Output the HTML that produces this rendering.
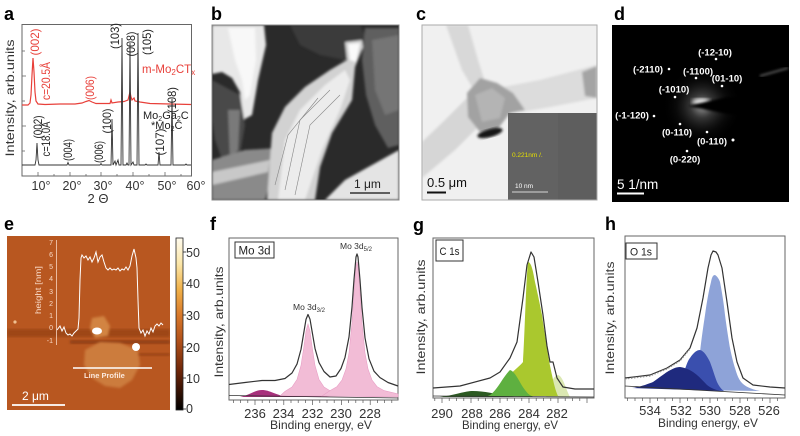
<!DOCTYPE html>
<html><head><meta charset="utf-8"><style>
html,body{margin:0;padding:0;background:#fff;}
svg{display:block;font-family:"Liberation Sans",sans-serif;}
</style></head><body>
<svg width="800" height="436" viewBox="0 0 800 436" xmlns="http://www.w3.org/2000/svg">
<defs>
<linearGradient id="cbar" x1="0" y1="0" x2="0" y2="1">
<stop offset="0" stop-color="#fffbee"/><stop offset="0.15" stop-color="#fbe6a8"/><stop offset="0.3" stop-color="#f0b048"/><stop offset="0.45" stop-color="#d8782a"/><stop offset="0.6" stop-color="#b0501a"/><stop offset="0.78" stop-color="#6a2408"/><stop offset="1" stop-color="#000"/>
</linearGradient>
<radialGradient id="glow" cx="0.5" cy="0.5" r="0.5">
<stop offset="0" stop-color="#fff" stop-opacity="0.9"/><stop offset="0.3" stop-color="#aaa" stop-opacity="0.45"/><stop offset="0.65" stop-color="#444" stop-opacity="0.2"/><stop offset="1" stop-color="#000" stop-opacity="0"/>
</radialGradient>
<filter id="bl1"><feGaussianBlur stdDeviation="1.2"/></filter>
<filter id="bl2"><feGaussianBlur stdDeviation="2.5"/></filter>
<clipPath id="cb"><rect x="212" y="25" width="187" height="175"/></clipPath>
<clipPath id="cc"><rect x="422" y="25" width="175" height="175"/></clipPath>
<clipPath id="cd"><rect x="612" y="25" width="177" height="177"/></clipPath>
<clipPath id="ce"><rect x="7" y="236" width="163" height="174"/></clipPath>
</defs>

<!-- ===== Panel a ===== -->
<text x="4" y="20" font-size="18" font-weight="bold">a</text>
<rect x="22" y="24.5" width="169.5" height="151.5" fill="#fff" stroke="#666" stroke-width="1"/>
<g stroke="#666" stroke-width="0.8">
<line x1="38" y1="176" x2="38" y2="172"/><line x1="70" y1="176" x2="70" y2="172"/><line x1="101" y1="176" x2="101" y2="172"/><line x1="133" y1="176" x2="133" y2="172"/><line x1="165" y1="176" x2="165" y2="172"/>
<line x1="54" y1="176" x2="54" y2="174"/><line x1="86" y1="176" x2="86" y2="174"/><line x1="117" y1="176" x2="117" y2="174"/><line x1="149" y1="176" x2="149" y2="174"/><line x1="181" y1="176" x2="181" y2="174"/>
<line x1="22" y1="76" x2="26" y2="76"/><line x1="22" y1="126" x2="26" y2="126"/><line x1="22" y1="151" x2="25" y2="151"/><line x1="22" y1="101" x2="25" y2="101"/><line x1="22" y1="51" x2="25" y2="51"/>
</g>
<path d="M22,105 L28,105 L30,103 L31,95 L32,75 L33,58 L34,72 L35,92 L36,101 L38,104 L45,104.5 L60,104 L75,104 L82,103 L86,101.5 L89,100.5 L92,102 L96,103.5 L110,103.5 L111,100 L112,103 L118,102 L124,101.5 L128,100 L129,96 L130,92 L131,97 L132,100 L134,98 L135,101 L140,102 L150,103.5 L170,104 L191,104.5" fill="none" stroke="#e8403a" stroke-width="1.2"/>
<path d="M22,165 L35,165 L36,160 L37,143 L38,160 L39,165 L67,165 L68,162.5 L69,165 L100,165 L101,163.5 L102,165 L111,165 L112,119 L113,165 L115,161 L116,165 L118,160 L119,165 L121,165 L122,38 L123,165 L126,165 L127,163 L128,165 L129,165 L130,43 L131,165 L133,162 L134,165 L137,165 L138,33 L139,165 L145,165 L146,164 L147,165 L158,165 L159,152 L160,165 L171,165 L172,99 L173,165 L185,165 L186,164 L187,165 L191,165" fill="none" stroke="#333" stroke-width="0.9"/>
<g font-size="12" fill="#e8403a" text-anchor="middle">
<text transform="translate(39,42) rotate(-90)" textLength="27" lengthAdjust="spacingAndGlyphs">(002)</text>
<text transform="translate(50,81) rotate(-90)" textLength="38" lengthAdjust="spacingAndGlyphs">c=20.5Å</text>
<text transform="translate(94,88) rotate(-90)" textLength="24" lengthAdjust="spacingAndGlyphs">(006)</text>
</g>
<text x="142" y="73" font-size="11.5" fill="#e8403a">m-Mo<tspan font-size="8" dy="2">2</tspan><tspan dy="-2">CT</tspan><tspan font-size="8" dy="2">x</tspan></text>
<g font-size="12" fill="#222" text-anchor="middle">
<text transform="translate(119,36) rotate(-90)" textLength="26" lengthAdjust="spacingAndGlyphs">(103)</text>
<text transform="translate(135,44) rotate(-90)" textLength="25" lengthAdjust="spacingAndGlyphs">(008)</text>
<text transform="translate(151,42) rotate(-90)" textLength="26" lengthAdjust="spacingAndGlyphs">(105)</text>
<text transform="translate(176,100) rotate(-90)" textLength="26" lengthAdjust="spacingAndGlyphs">(108)</text>
<text transform="translate(42,127) rotate(-90)" textLength="23" lengthAdjust="spacingAndGlyphs">(002)</text>
<text transform="translate(50,139) rotate(-90)" textLength="35" lengthAdjust="spacingAndGlyphs">c=18.0Å</text>
<text transform="translate(72,150) rotate(-90)" textLength="22" lengthAdjust="spacingAndGlyphs">(004)</text>
<text transform="translate(103,152) rotate(-90)" textLength="22" lengthAdjust="spacingAndGlyphs">(006)</text>
<text transform="translate(111,121) rotate(-90)" textLength="25" lengthAdjust="spacingAndGlyphs">(100)</text>
<text transform="translate(164,142) rotate(-90)" textLength="27" lengthAdjust="spacingAndGlyphs">(107)</text>
</g>
<text x="143" y="119" font-size="11" fill="#222">Mo<tspan font-size="7" dy="2">2</tspan><tspan dy="-2">Ga</tspan><tspan font-size="7" dy="2">2</tspan><tspan dy="-2">C</tspan></text>
<text x="151" y="129" font-size="11" fill="#222">*Mo<tspan font-size="7" dy="2">2</tspan><tspan dy="-2">C</tspan></text>
<g font-size="12.5" fill="#333" text-anchor="middle">
<text x="41" y="190">10°</text><text x="72" y="190">20°</text><text x="103" y="190">30°</text><text x="135" y="190">40°</text><text x="167" y="190">50°</text><text x="196" y="190">60°</text>
</g>
<text x="98" y="203" font-size="13" fill="#333" text-anchor="middle">2 Θ</text>
<text transform="translate(14,98) rotate(-90)" font-size="12" fill="#333" text-anchor="middle" textLength="117" lengthAdjust="spacingAndGlyphs">Intensity, arb.units</text>

<!-- ===== Panel b (SEM) ===== -->
<text x="211" y="20" font-size="18" font-weight="bold">b</text>
<g clip-path="url(#cb)">
<rect x="212" y="25" width="187" height="175" fill="#2a2a2a"/>
<g filter="url(#bl1)">
<path d="M290,25 L360,25 L370,45 L345,60 L320,55 L300,45 Z" fill="#3a3a3a"/>
<path d="M365,28 L399,28 L399,145 L388,148 L375,125 L366,95 L362,60 Z" fill="#5e5e5e"/>
<path d="M372,40 L399,35 L399,110 L385,115 L375,90 Z" fill="#757575"/>
<path d="M212,25 L264,25 L266,45 L258,80 L252,115 L243,120 L240,92 L232,78 L222,72 L212,74 Z" fill="#e8e8e8"/>
<path d="M228,28 L255,28 L256,60 L250,95 L245,100 L242,80 L235,60 Z" fill="#f8f8f8"/>
<path d="M212,80 L240,95 L245,125 L238,165 L225,168 L215,140 L212,120 Z" fill="#484848"/>
<path d="M228,110 L240,110 L238,150 L230,160 Z" fill="#7a7a7a"/>
<path d="M212,160 L245,150 L278,148 L272,175 L265,200 L212,200 Z" fill="#8a8a8a"/>
<path d="M212,172 L270,160 L268,172 L212,185 Z" fill="#c8c8c8"/>
<path d="M325,200 L345,180 L372,165 L399,150 L399,200 Z" fill="#e4e4e4"/>
<path d="M267,200 L272,133 L285,107 L305,87 L330,70 L347,60 L345,42 L362,40 L363,47 L355,67 L352,100 L332,133 L320,167 L315,200 Z" fill="#d2d2d2"/>
<path d="M278,200 L285,140 L300,110 L325,85 L345,70 L350,80 L340,110 L322,150 L305,200 Z" fill="#ececec"/>
<path d="M348,44 L360,43 L356,62 L350,60 Z" fill="#fafafa"/>
</g>
<g stroke="#888" stroke-width="0.6" fill="none">
<path d="M285,190 L300,120 L330,90"/><path d="M295,195 L310,125 L340,95"/><path d="M275,185 L288,135 L318,98"/>
</g>
<text x="354" y="188" font-size="12" fill="#222">1 μm</text>
<line x1="350" y1="193" x2="390" y2="193" stroke="#333" stroke-width="1.5"/>
</g>
<rect x="212" y="25" width="187" height="175" fill="none" stroke="#888" stroke-width="1"/>

<!-- ===== Panel c (TEM) ===== -->
<text x="416" y="20" font-size="18" font-weight="bold">c</text>
<g clip-path="url(#cc)">
<rect x="422" y="25" width="175" height="175" fill="#f0f0f0"/>
<g filter="url(#bl1)">
<path d="M446,25 L468,25 L478,60 L485,82 L475,92 L462,70 Z" fill="#d8d8d8"/>
<path d="M498,88 L540,80 L597,65 L597,98 L545,108 L520,112 Z" fill="#dcdcdc"/>
<path d="M467,98 L480,125 L455,150 L422,178 L422,142 L445,120 Z" fill="#d6d6d6"/>
<path d="M582,72 L597,66 L597,98 L585,96 Z" fill="#a4a4a4"/>
<path d="M467,93 L480,78 L497,83 L513,93 L525,110 L510,113 L497,130 L480,132 L468,117 Z" fill="#a2a2a2"/>
<path d="M475,95 L492,88 L505,98 L500,118 L482,122 Z" fill="#b4b4b4"/>
</g>
<ellipse cx="490" cy="133" rx="13" ry="4" transform="rotate(-15 490 133)" fill="#151515" filter="url(#bl1)"/>
<rect x="508" y="113" width="89" height="87" fill="#5e5e5e"/>
<rect x="508" y="113" width="50" height="87" fill="#666" opacity="0.6"/>
<text x="512" y="157" font-size="6.5" fill="#e6e000">0.221nm /.</text>
<text x="515" y="188" font-size="6.5" fill="#fff">10 nm</text>
<line x1="512" y1="192" x2="548" y2="192" stroke="#fff" stroke-width="0.8"/>
<text x="427" y="187" font-size="13" fill="#111">0.5 μm</text>
<line x1="427" y1="192.5" x2="446" y2="192.5" stroke="#111" stroke-width="2"/>
</g>
<rect x="422" y="25" width="175" height="175" fill="none" stroke="#aaa" stroke-width="1"/>

<!-- ===== Panel d (SAED) ===== -->
<text x="614" y="20" font-size="18" font-weight="bold">d</text>
<g clip-path="url(#cd)">
<rect x="612" y="25" width="177" height="177" fill="#000"/>
<circle cx="702" cy="106" r="40" fill="url(#glow)" opacity="0.7"/>
<ellipse cx="701" cy="102" rx="9" ry="3.5" fill="#fff" filter="url(#bl2)" opacity="0.9"/>
<path d="M688,106 L727,97 L745,97 L745,115 L727,114 Z" fill="#000" filter="url(#bl1)"/>
<path d="M760,76 L788,68" stroke="#555" stroke-width="2" filter="url(#bl1)"/>
<g fill="#fff">
<circle cx="716" cy="59" r="1.3"/><circle cx="669" cy="69" r="1.3"/><circle cx="696" cy="78" r="1.3"/><circle cx="722" cy="86" r="1.3"/><circle cx="675" cy="97" r="1.3"/><circle cx="654" cy="116" r="1.3"/><circle cx="680" cy="124" r="1.3"/><circle cx="707" cy="132" r="1.3"/><circle cx="733" cy="140" r="1.5"/><circle cx="687" cy="151" r="1.3"/>
</g>
<g font-size="9.5" font-weight="bold" fill="#fff" text-anchor="middle">
<text x="715" y="55.5">(-12-10)</text>
<text x="648" y="72.5">(-2110)</text>
<text x="698" y="74.5">(-1100)</text>
<text x="727" y="81.5">(01-10)</text>
<text x="674" y="92.5">(-1010)</text>
<text x="632" y="118.5">(-1-120)</text>
<text x="677" y="135.5">(0-110)</text>
<text x="712" y="144.5">(0-110)</text>
<text x="685" y="162.5">(0-220)</text>
</g>
<text x="617" y="189" font-size="13.5" fill="#fff">5 1/nm</text>
<line x1="617" y1="193.5" x2="644" y2="193.5" stroke="#fff" stroke-width="2"/>
</g>

<!-- ===== Panel e (AFM) ===== -->
<text x="4" y="230" font-size="18" font-weight="bold">e</text>
<g clip-path="url(#ce)">
<rect x="7" y="236" width="163" height="174" fill="#b85720"/>
<rect x="7" y="329" width="163" height="8" fill="#9e4618" filter="url(#bl1)"/>
<rect x="70" y="340" width="100" height="4" fill="#924014" filter="url(#bl1)"/>
<rect x="110" y="353" width="60" height="3" fill="#9c4416" filter="url(#bl1)"/>
<g filter="url(#bl1)">
<path d="M85,350 L100,342 L120,343 L138,350 L140,365 L132,380 L120,388 L105,386 L92,378 L84,365 Z" fill="#cc7c3c"/>
<path d="M92,318 L104,316 L110,326 L108,336 L95,338 L90,328 Z" fill="#d28442"/>
</g>
<ellipse cx="97" cy="331" rx="5" ry="3.5" fill="#fff"/>
<ellipse cx="136" cy="347" rx="4" ry="4" fill="#fff"/>
<circle cx="15" cy="322" r="1.6" fill="#f0c090"/>
<line x1="56.5" y1="240" x2="56.5" y2="345" stroke="#f6d4c0" stroke-width="0.8"/>
<g font-size="7" fill="#f8d8c4" text-anchor="end">
<text x="53" y="245">7</text><text x="53" y="257">6</text><text x="53" y="269">5</text><text x="53" y="281">4</text><text x="53" y="294">3</text><text x="53" y="306">2</text><text x="53" y="318">1</text><text x="53" y="330">0</text><text x="53" y="343">-1</text>
</g>
<text transform="translate(41,290) rotate(-90)" font-size="8" fill="#f8d8c4" text-anchor="middle" textLength="48" lengthAdjust="spacingAndGlyphs">height [nm]</text>
<path d="M57,330 L60,326 L62,331 L64,327 L66,333 L68,335 L70,334 L72,336 L74,333 L76,331 L78,329 L79,318 L80,280 L81,258 L82,255 L84,258 L86,256 L88,260 L90,257 L92,262 L94,258 L96,252 L98,262 L100,257 L102,255 L104,262 L106,268 L108,270 L110,268 L112,270 L114,269 L116,270 L118,268 L120,271 L122,269 L124,270 L126,267 L128,270 L130,266 L132,256 L134,249 L136,258 L137,268 L138,300 L139,328 L141,333 L143,330 L145,336 L147,331 L149,334 L151,328 L153,332 L155,326 L157,324 L159,326 L161,323 L163,325" fill="none" stroke="#fff" stroke-width="1"/>
<line x1="73" y1="368" x2="152" y2="368" stroke="#fff" stroke-width="1.5"/>
<text x="84" y="378" font-size="7.5" font-weight="bold" fill="#fbe8dc">Line Profile</text>
<text x="22" y="400" font-size="12" fill="#fff">2 μm</text>
<line x1="12" y1="405" x2="65" y2="405" stroke="#fff" stroke-width="1.8"/>
</g>
<rect x="176" y="238" width="7" height="172" fill="url(#cbar)" stroke="#222" stroke-width="0.8"/>
<g stroke="#222" stroke-width="0.8">
<line x1="183" y1="252" x2="186" y2="252"/><line x1="183" y1="283" x2="186" y2="283"/><line x1="183" y1="315" x2="186" y2="315"/><line x1="183" y1="347" x2="186" y2="347"/><line x1="183" y1="378" x2="186" y2="378"/><line x1="183" y1="409" x2="186" y2="409"/>
</g>
<g font-size="12.5" fill="#333">
<text x="186" y="257">50</text><text x="186" y="288">40</text><text x="186" y="320">30</text><text x="186" y="352">20</text><text x="186" y="383">10</text><text x="186" y="413">0</text>
</g>

<!-- ===== Panel f (Mo 3d) ===== -->
<text x="210" y="230" font-size="18" font-weight="bold">f</text>
<text transform="translate(223,322) rotate(-90)" font-size="12" fill="#333" text-anchor="middle" textLength="111" lengthAdjust="spacingAndGlyphs">Intensity, arb.units</text>
<rect x="229" y="238" width="169" height="162" fill="#fff" stroke="#666" stroke-width="1"/>
<path d="M240,397 C250,395 255,390 262,390 C270,390 275,395 285,396 C292,395 298,388 306,388 C314,388 320,395 330,397 Z" fill="#a8307c"/>
<path d="M280,396 L285,391.4 L292,387 L297,379.5 L301,365.5 L304,346 L306,331 L308,324 L310,331 L312,346 L315,365.5 L319,379.5 L324,387 L331,391.4 L340,393.6 L345,396 Z" fill="#f2bcd6" stroke="#e8a0c6" stroke-width="0.6"/>
<path d="M322,396 L330,390.6 L337,386.6 L342,380 L346,369 L349,353 L352,322.6 L354,292.8 L356,266.3 L357,262 L358,266.3 L360,292.8 L362,322.6 L365,353 L368,369 L372,380 L377,386.6 L384,390.6 L395,393.2 L398,394 L398,397 Z" fill="#f2bcd6" stroke="#e8a0c6" stroke-width="0.6"/>
<line x1="229" y1="395.5" x2="398" y2="398" stroke="#333" stroke-width="0.8"/>
<path d="M229,384.5 L245,382.5 L262,380.5 L275,380.5 L285,378.5 L292,373 L297,364.1 L301,349.4 L304,331.4 L306,319.4 L308,314.5 L310,319.2 L312,330.9 L315,348.4 L319,362.6 L324,371.5 L330,377 L336,376 L341,368.5 L345,357.4 L349,337 L352,307 L354,279.6 L356,257 L357,254 L358,257 L360,280 L362,307.5 L365,337.8 L369,358.8 L374,371.2 L380,377.6 L388,382.5 L398,386" fill="none" stroke="#333" stroke-width="1.2" stroke-linejoin="round"/>
<rect x="235" y="242" width="39" height="16" fill="#fff" stroke="#333" stroke-width="1"/>
<text x="238.5" y="254.5" font-size="11.5" fill="#222" textLength="32" lengthAdjust="spacingAndGlyphs">Mo 3d</text>
<text x="340" y="249" font-size="8.5" fill="#333">Mo 3d<tspan font-size="6" dy="2">5/2</tspan></text>
<text x="293" y="310" font-size="8.5" fill="#333">Mo 3d<tspan font-size="6" dy="2">3/2</tspan></text>
<g stroke="#555" stroke-width="0.7">
<line x1="240.6" y1="400" x2="240.6" y2="403"/><line x1="247.8" y1="400" x2="247.8" y2="403"/><line x1="255" y1="400" x2="255" y2="405"/><line x1="262.2" y1="400" x2="262.2" y2="403"/><line x1="269.4" y1="400" x2="269.4" y2="403"/><line x1="276.6" y1="400" x2="276.6" y2="403"/><line x1="283.8" y1="400" x2="283.8" y2="405"/><line x1="291" y1="400" x2="291" y2="403"/><line x1="298.2" y1="400" x2="298.2" y2="403"/><line x1="305.4" y1="400" x2="305.4" y2="403"/><line x1="312.6" y1="400" x2="312.6" y2="405"/><line x1="319.8" y1="400" x2="319.8" y2="403"/><line x1="327" y1="400" x2="327" y2="403"/><line x1="334.2" y1="400" x2="334.2" y2="403"/><line x1="341.4" y1="400" x2="341.4" y2="405"/><line x1="348.6" y1="400" x2="348.6" y2="403"/><line x1="355.8" y1="400" x2="355.8" y2="403"/><line x1="363" y1="400" x2="363" y2="403"/><line x1="370.2" y1="400" x2="370.2" y2="405"/><line x1="377.4" y1="400" x2="377.4" y2="403"/><line x1="384.6" y1="400" x2="384.6" y2="403"/><line x1="391.8" y1="400" x2="391.8" y2="403"/><line x1="233.4" y1="400" x2="233.4" y2="403"/>
</g>
<g font-size="13" fill="#333" text-anchor="middle">
<text x="255" y="418">236</text><text x="283.5" y="418">234</text><text x="312.5" y="418">232</text><text x="341" y="418">230</text><text x="370" y="418">228</text>
</g>
<text x="321" y="429" font-size="12" fill="#333" text-anchor="middle" textLength="102" lengthAdjust="spacingAndGlyphs">Binding energy, eV</text>

<!-- ===== Panel g (C 1s) ===== -->
<text x="413" y="231" font-size="18" font-weight="bold">g</text>
<text transform="translate(425,317) rotate(-90)" font-size="12" fill="#333" text-anchor="middle" textLength="115" lengthAdjust="spacingAndGlyphs">Intensity, arb.units</text>
<rect x="433" y="238" width="161" height="160" fill="#fff" stroke="#666" stroke-width="1"/>
<path d="M440,397 C455,395 465,391 473,391 C485,391 500,395 515,397 Z" fill="#2c5a22"/>
<path d="M546,397 C549,390 552,376 558,375 C563,376 566,390 570,397 Z" fill="#dbe8b2"/>
<path d="M488,396 C498,394 504,384 510,375 C514,370 520,366 523,362 C525,330 526,280 528,262 C531,262 533,270 535,282 C538,295 540,305 542,315 C544,330 546,340 547,348 C549,362 551,370 552,375 C554,385 556,392 558,396 Z" fill="#aac82e"/>
<path d="M488,396 C496,393 502,378 510,370 C516,372 520,384 525,390 C528,394 530,396 535,397 Z" fill="#5eb040"/>
<line x1="433" y1="396" x2="594" y2="397" stroke="#333" stroke-width="0.8"/>
<path d="M433,388 L460,386 L490,378 L500,372 L510,358 L517,342 L523,298 L527,265 L531,252 L534,257 L538,282 L543,315 L547,346 L550,362 L553,362 L557,378 L563,387 L575,389 L594,389" fill="none" stroke="#333" stroke-width="1.2" stroke-linejoin="round"/>
<rect x="436" y="240" width="27" height="21" fill="#fff" stroke="#333" stroke-width="1"/>
<text x="439.5" y="255" font-size="11" fill="#222" textLength="20" lengthAdjust="spacingAndGlyphs">C 1s</text>
<g stroke="#555" stroke-width="0.7">
<line x1="442" y1="398" x2="442" y2="403"/><line x1="449.2" y1="398" x2="449.2" y2="401"/><line x1="456.5" y1="398" x2="456.5" y2="401"/><line x1="463.8" y1="398" x2="463.8" y2="401"/><line x1="471" y1="398" x2="471" y2="403"/><line x1="478.2" y1="398" x2="478.2" y2="401"/><line x1="485.5" y1="398" x2="485.5" y2="401"/><line x1="492.8" y1="398" x2="492.8" y2="401"/><line x1="500" y1="398" x2="500" y2="403"/><line x1="507.2" y1="398" x2="507.2" y2="401"/><line x1="514.5" y1="398" x2="514.5" y2="401"/><line x1="521.8" y1="398" x2="521.8" y2="401"/><line x1="529" y1="398" x2="529" y2="403"/><line x1="536.2" y1="398" x2="536.2" y2="401"/><line x1="543.5" y1="398" x2="543.5" y2="401"/><line x1="550.8" y1="398" x2="550.8" y2="401"/><line x1="558" y1="398" x2="558" y2="403"/><line x1="565.2" y1="398" x2="565.2" y2="401"/><line x1="572.5" y1="398" x2="572.5" y2="401"/><line x1="579.8" y1="398" x2="579.8" y2="401"/><line x1="587" y1="398" x2="587" y2="403"/><line x1="434.8" y1="398" x2="434.8" y2="401"/>
</g>
<g font-size="13" fill="#333" text-anchor="middle">
<text x="442" y="418">290</text><text x="472" y="418">288</text><text x="500" y="418">286</text><text x="529" y="418">284</text><text x="557" y="418">282</text>
</g>
<text x="510" y="429" font-size="12" fill="#333" text-anchor="middle" textLength="96" lengthAdjust="spacingAndGlyphs">Binding energy, eV</text>

<!-- ===== Panel h (O 1s) ===== -->
<text x="605" y="230" font-size="18" font-weight="bold">h</text>
<text transform="translate(614,318) rotate(-90)" font-size="12" fill="#333" text-anchor="middle" textLength="113" lengthAdjust="spacingAndGlyphs">Intensity, arb.units</text>
<rect x="625" y="236" width="160" height="162" fill="#fff" stroke="#666" stroke-width="1"/>
<path d="M690,390 C694,385 697,378 698,372 C700,350 702,335 705,315 C707,300 709,290 711,282 C712,277 713,275 715,275 C717,276 719,279 720,282 C722,292 724,305 725,315 C727,330 729,342 730,348 C732,358 734,365 735,368 C737,375 739,380 742,383 C745,386 750,389 760,391 Z" fill="#8ea3d8"/>
<path d="M675,389 C678,386 680,380 683,375 C686,366 688,360 690,358 C694,352 697,350 700,350 C704,351 707,356 710,362 C713,370 715,377 717,382 C719,386 721,389 724,391 Z" fill="#3a4fae"/>
<path d="M632,388 C640,387 648,384 653,382 C660,377 664,374 667,372 C672,369 676,367 680,367 C686,368 690,370 693,372 C699,376 703,381 707,385 C711,388 715,390 722,391 Z" fill="#1f2a7e"/>
<line x1="625" y1="386" x2="785" y2="395" stroke="#333" stroke-width="0.8"/>
<path d="M625,378 L650,375 L667,368 L680,360 L690,348 L697,328 L703,298 L708,268 L711,255 L713,251 L716,252 L718,255 L722,268 L727,302 L732,338 L737,362 L743,378 L753,385 L770,387 L785,388" fill="none" stroke="#333" stroke-width="1.2" stroke-linejoin="round"/>
<path d="M625,379 L650,376 L667,369 L680,361 L690,349" fill="none" stroke="#999" stroke-width="1.2" stroke-dasharray="1.5 1.5"/>
<rect x="626" y="243" width="31" height="16" fill="#fff" stroke="#333" stroke-width="1"/>
<text x="630" y="255.5" font-size="11" fill="#222" textLength="22" lengthAdjust="spacingAndGlyphs">O 1s</text>
<g stroke="#555" stroke-width="0.7">
<line x1="635" y1="398" x2="635" y2="401"/><line x1="642.5" y1="398" x2="642.5" y2="401"/><line x1="650" y1="398" x2="650" y2="403"/><line x1="657.5" y1="398" x2="657.5" y2="401"/><line x1="665" y1="398" x2="665" y2="401"/><line x1="672.5" y1="398" x2="672.5" y2="401"/><line x1="680" y1="398" x2="680" y2="403"/><line x1="687.5" y1="398" x2="687.5" y2="401"/><line x1="695" y1="398" x2="695" y2="401"/><line x1="702.5" y1="398" x2="702.5" y2="401"/><line x1="710" y1="398" x2="710" y2="403"/><line x1="717.5" y1="398" x2="717.5" y2="401"/><line x1="725" y1="398" x2="725" y2="401"/><line x1="732.5" y1="398" x2="732.5" y2="401"/><line x1="740" y1="398" x2="740" y2="403"/><line x1="747.5" y1="398" x2="747.5" y2="401"/><line x1="755" y1="398" x2="755" y2="401"/><line x1="762.5" y1="398" x2="762.5" y2="401"/><line x1="770" y1="398" x2="770" y2="403"/><line x1="777.5" y1="398" x2="777.5" y2="401"/><line x1="627.5" y1="398" x2="627.5" y2="401"/>
</g>
<g font-size="13" fill="#333" text-anchor="middle">
<text x="650" y="415">534</text><text x="681" y="415">532</text><text x="710" y="415">530</text><text x="740" y="415">528</text><text x="769" y="415">526</text>
</g>
<text x="708" y="427" font-size="12" fill="#333" text-anchor="middle" textLength="100" lengthAdjust="spacingAndGlyphs">Binding energy, eV</text>
</svg>
</body></html>
